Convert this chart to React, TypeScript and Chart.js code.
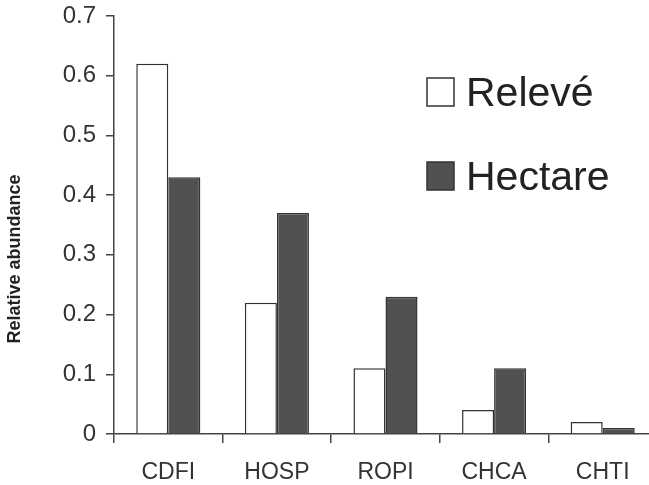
import React, { useEffect, useRef } from "react";
import { Chart, registerables } from "chart.js";

Chart.register(...registerables);

const categories = ["CDFI", "HOSP", "ROPI", "CHCA", "CHTI"];
const releveValues = [0.62, 0.22, 0.11, 0.04, 0.02];
const hectareValues = [0.43, 0.37, 0.23, 0.11, 0.01];
const seriesLabels = ["Relevé", "Hectare"];
const yTicks = [0, 0.1, 0.2, 0.3, 0.4, 0.5, 0.6, 0.7];
const yTitle = "Relative abundance";

const FONT = "'Liberation Sans', Arial, Helvetica, sans-serif";

const insideLegend = {
  id: "insideLegend",
  afterDraw(chart: any) {
    const ctx = chart.ctx;
    ctx.save();
    chart.data.datasets.forEach((ds: any, i: number) => {
      const baseline = 106 + i * 84;
      const bx = 427;
      const by = baseline - 28;
      ctx.fillStyle = ds.backgroundColor;
      ctx.fillRect(bx, by, 27, 28);
      ctx.lineWidth = 1.5;
      ctx.strokeStyle = ds.borderColor;
      ctx.strokeRect(bx, by, 27, 28);
      ctx.fillStyle = "#222";
      ctx.font = `41px ${FONT}`;
      ctx.textBaseline = "alphabetic";
      ctx.textAlign = "left";
      ctx.fillText(ds.label, 466, baseline);
    });
    // y-axis title, placed like the reference (below the axis centre)
    ctx.translate(15, 259);
    ctx.rotate(-Math.PI / 2);
    ctx.fillStyle = "#222";
    ctx.font = `bold 18px ${FONT}`;
    ctx.textAlign = "center";
    ctx.textBaseline = "middle";
    ctx.fillText(yTitle, 0, 0);
    ctx.restore();
  },
};

export default function App() {
  const ref = useRef<HTMLCanvasElement>(null);

  useEffect(() => {
    if (!ref.current) return;
    const chart = new Chart(ref.current, {
      type: "bar",
      data: {
        labels: categories,
        datasets: [
          {
            label: seriesLabels[0],
            data: releveValues,
            backgroundColor: "#ffffff",
            borderColor: "#333333",
            borderWidth: 1.5,
          },
          {
            label: seriesLabels[1],
            data: hectareValues,
            backgroundColor: "#515153",
            borderColor: "#333333",
            borderWidth: 1.5,
          },
        ],
      },
      options: {
        animation: false,
        responsive: true,
        maintainAspectRatio: false,
        devicePixelRatio: 1,
        layout: { padding: { top: 16, left: 0, right: 8, bottom: 0 } },
        datasets: {
          bar: { categoryPercentage: 0.59, barPercentage: 1.0 },
        },
        plugins: {
          legend: { display: false },
          tooltip: { enabled: false },
        },
        scales: {
          x: {
            offset: true,
            grid: {
              offset: true,
              drawOnChartArea: false,
              drawTicks: true,
              tickLength: 9,
              color: "#444",
              lineWidth: 1.5,
            },
            border: { display: true, color: "#444", width: 1.5 },
            ticks: {
              color: "#333",
              font: { family: FONT, size: 23 },
              padding: 16,
              maxRotation: 0,
            },
            afterFit: (s: any) => {
              s.height = 51;
              s.paddingLeft = 0;
              s.paddingRight = 0;
            },
          },
          y: {
            min: 0,
            max: 0.7,
            afterBuildTicks: (s: any) => {
              s.ticks = yTicks.map((v) => ({ value: v }));
            },
            grid: {
              drawOnChartArea: false,
              drawTicks: true,
              tickLength: 8,
              color: "#444",
              lineWidth: 1.5,
            },
            border: { display: true, color: "#444", width: 1.5 },
            ticks: {
              color: "#333",
              font: { family: FONT, size: 24 },
              padding: 10,
              callback: (v: any) => (Number(v) === 0 ? "0" : Number(v).toFixed(1)),
            },
            title: { display: false, text: yTitle },
            afterFit: (s: any) => {
              s.width = 114;
              s.paddingTop = 0;
              s.paddingBottom = 0;
            },
          },
        },
      },
      plugins: [insideLegend],
    });
    return () => chart.destroy();
  }, []);

  return (
    <div
      style={{
        position: "fixed",
        left: 0,
        top: 0,
        width: 649,
        height: 485,
        overflow: "hidden",
        background: "#ffffff",
      }}
    >
      <div style={{ position: "relative", width: 665, height: 485 }}>
        <canvas ref={ref} />
      </div>
    </div>
  );
}
